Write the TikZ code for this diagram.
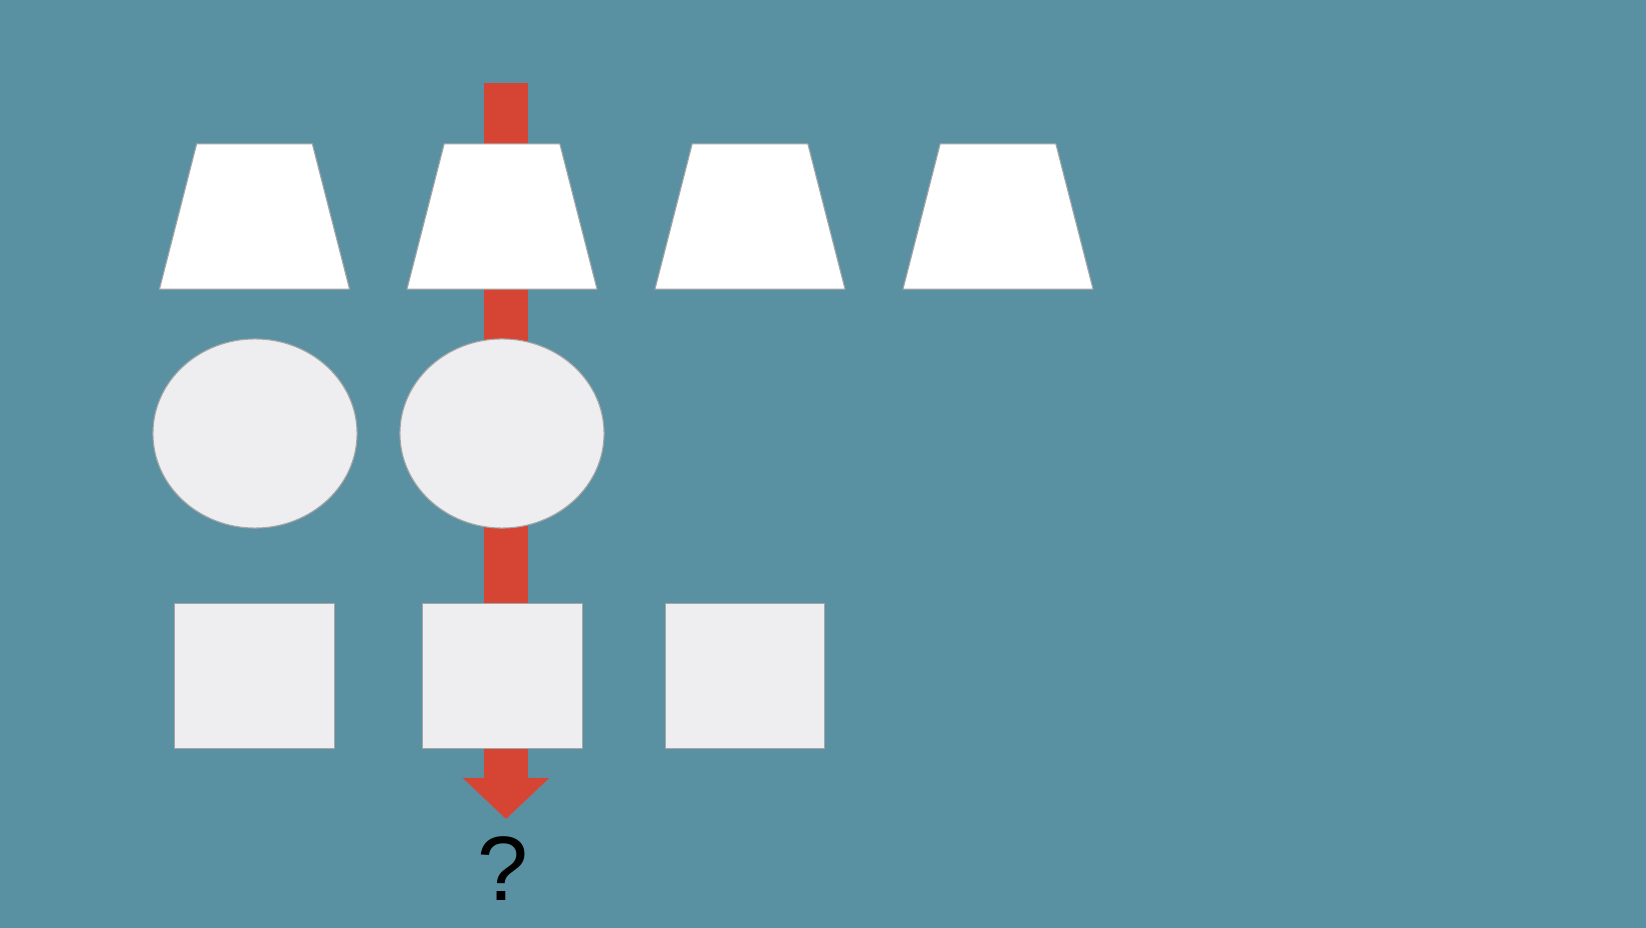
\documentclass[tikz,border=0pt]{standalone}
\usepackage{fontspec}
\setmainfont{Liberation Sans}
\usetikzlibrary{arrows.meta,positioning,shapes.geometric}
\definecolor{slate}{RGB}{90,145,162}
\definecolor{arrowred}{RGB}{214,69,52}
\definecolor{paper}{RGB}{238,238,241}
\begin{document}
\begin{tikzpicture}[x=0.01cm, y=-0.01cm,
  shp/.style={draw=black!35, line width=0.3pt},
  trap/.style={shp, trapezium, trapezium angle=72.2, trapezium stretches=true, minimum width=1.9cm, minimum height=1.45cm, fill=white},
  blob/.style={shp, inner sep=0pt, ellipse, minimum width=2.04cm, minimum height=1.89cm, fill=paper},
  sq/.style={shp, inner sep=0pt, rectangle, minimum width=1.59cm, minimum height=1.45cm, fill=paper},
  flow/.style={arrowred, line width=0.44cm, -{Triangle[width=0.84cm, length=0.41cm]}}]
\fill[slate] (0,0) rectangle (1646,928);
\coordinate (top) at (506,83); \coordinate (tip) at (506,819);
\draw[flow] (top) -- (tip);
\foreach \i/\x in {1/254.5, 2/502, 3/750, 4/998} \node[trap] (t\i) at (\x,216.5) {};
\foreach \i/\x in {1/255, 2/502} \node[blob] (e\i) at (\x,433.5) {};
\foreach \i/\x in {1/254.5, 2/502.5, 3/745} \node[sq] (s\i) at (\x,676) {};
\node[font=\fontsize{26}{30}\selectfont] (q) at (503,869) {?};
\end{tikzpicture}
\end{document}
